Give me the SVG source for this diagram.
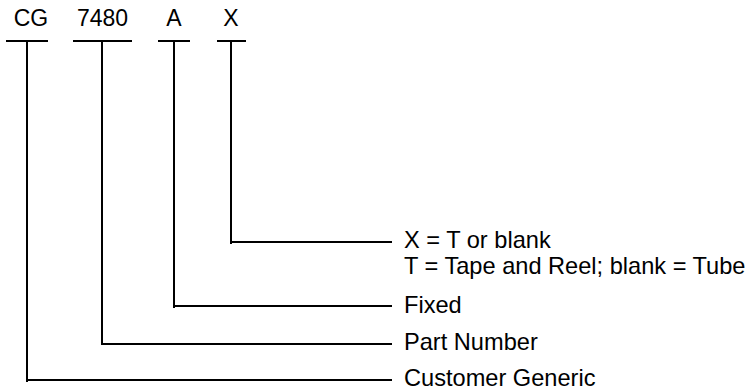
<svg xmlns="http://www.w3.org/2000/svg" width="753" height="391" viewBox="0 0 753 391">
<style>
.t{font-family:"Liberation Sans",Arial,sans-serif;font-size:23px;fill:#000}
.b{font-size:23.6px}
.l{stroke:#000;stroke-width:2;fill:none}
</style>
<rect width="753" height="391" fill="#fff"/>
<g id="cg"><text class="t" x="31" y="26" text-anchor="middle">CG</text><line class="l" x1="6" y1="41" x2="48" y2="41"/></g>
<g id="pn"><text class="t" x="102.5" y="26" text-anchor="middle">7480</text><line class="l" x1="73" y1="41" x2="132" y2="41"/></g>
<g id="a"><text class="t" x="174" y="26" text-anchor="middle">A</text><line class="l" x1="158" y1="41" x2="190" y2="41"/></g>
<g id="x"><text class="t" x="231" y="26" text-anchor="middle">X</text><line class="l" x1="217" y1="41" x2="246" y2="41"/></g>
<g id="lbl-x"><text class="t b" x="404" y="248">X = T or blank</text><text class="t b" x="404" y="274">T = Tape and Reel; blank = Tube</text></g>
<g id="lbl-a"><text class="t b" x="404" y="313">Fixed</text></g>
<g id="lbl-pn"><text class="t b" x="404" y="350">Part Number</text></g>
<g id="lbl-cg"><text class="t b" x="404" y="386">Customer Generic</text></g>
<g id="connectors">
<path class="l" d="M231 41V244M230 242H392"/>
<path class="l" d="M174 41V308M173 306H392"/>
<path class="l" d="M102 41V344H392"/>
<path class="l" d="M27 41V382M26 380H392"/>
</g>
</svg>
